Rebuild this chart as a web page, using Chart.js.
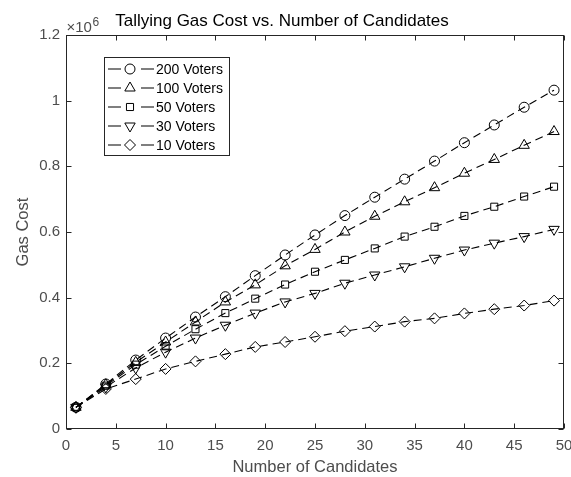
<!DOCTYPE html>
<html>
<head>
<meta charset="utf-8">
<script src="https://cdn.jsdelivr.net/npm/chart.js@4/dist/chart.umd.min.js"></script>
<style>
  body { margin: 0; background: #fff; }
  #wrap { width: 571px; height: 477px; }
</style>
</head>
<body>
<div id="wrap"><canvas id="gasChart" width="571" height="477"></canvas></div>
<script>
const candidates = [1, 4, 7, 10, 13, 16, 19, 22, 25, 28, 31, 34, 37, 40, 43, 46, 49];

const voters200 = [66000, 137000, 210000, 277000, 341000, 403000, 467000, 530000, 591000, 650000, 706000, 761000, 816000, 872000, 926000, 980000, 1032000];
const voters100 = [66000, 135000, 203000, 265000, 326000, 387000, 439000, 497000, 547000, 600000, 648000, 692000, 735000, 779000, 821000, 864000, 906000];
const voters50 = [66000, 132000, 196000, 252000, 304000, 353000, 397000, 440000, 479000, 515000, 550000, 586000, 616000, 649000, 677000, 708000, 738000];
const voters30 = [66000, 128000, 186000, 234000, 277000, 316000, 353000, 387000, 413000, 444000, 469000, 494000, 520000, 545000, 566000, 586000, 608000];
const voters10 = [66000, 122000, 152000, 183000, 206000, 228000, 250000, 265000, 281000, 298000, 312000, 327000, 337000, 352000, 365000, 376000, 391000];

const seriesLabels = ['200 Voters', '100 Voters', '50 Voters', '30 Voters', '10 Voters'];
const xTicks = [0, 5, 10, 15, 20, 25, 30, 35, 40, 45, 50];
const yTicks = [0, 200000, 400000, 600000, 800000, 1000000, 1200000];

const AXIS_COLOR = '#262626';
const TICK_COLOR = '#4d4d4d';
const FONT = 'Liberation Sans, Arial, Helvetica, sans-serif';

// marker style per series, MATLAB style (unfilled)
const markers = [
  { style: 'circle', radius: 5, rotation: 0 },
  { style: 'triangle', radius: 6, rotation: 0 },
  { style: 'rect', radius: 5, rotation: 0 },
  { style: 'triangle', radius: 6, rotation: 180 },
  { style: 'rectRot', radius: 5.5, rotation: 0 }
];

const allSeries = [voters200, voters100, voters50, voters30, voters10];

const datasets = allSeries.map((values, i) => ({
  label: seriesLabels[i],
  data: values.map((v, j) => ({ x: candidates[j], y: v })),
  borderColor: '#000',
  borderWidth: 1.1,
  borderDash: [8, 5],
  backgroundColor: 'rgba(0,0,0,0)',
  pointStyle: markers[i].style,
  pointRadius: markers[i].radius,
  pointRotation: markers[i].rotation,
  pointBorderColor: '#000',
  pointBorderWidth: 1,
  pointBackgroundColor: 'rgba(0,0,0,0)',
  fill: false,
  tension: 0
}));

// box, inward ticks and the x10^6 exponent label
const framePlugin = {
  id: 'frame',
  afterDraw(chart) {
    const { ctx, chartArea: a, scales } = chart;
    const L = Math.round(a.left) + 0.5, R = Math.round(a.right) - 0.5;
    const T = Math.round(a.top) + 0.5, B = Math.round(a.bottom) - 0.5;
    ctx.save();
    ctx.strokeStyle = AXIS_COLOR;
    ctx.lineWidth = 1;
    ctx.setLineDash([]);
    ctx.strokeRect(L, T, R - L, B - T);

    const len = 5;
    ctx.beginPath();
    scales.x.ticks.forEach(t => {
      const px = Math.round(scales.x.getPixelForValue(t.value)) + 0.5;
      ctx.moveTo(px, B); ctx.lineTo(px, B - len);
      ctx.moveTo(px, T); ctx.lineTo(px, T + len);
    });
    scales.y.ticks.forEach(t => {
      const py = Math.round(scales.y.getPixelForValue(t.value)) + 0.5;
      ctx.moveTo(L, py); ctx.lineTo(L + len, py);
      ctx.moveTo(R, py); ctx.lineTo(R - len, py);
    });
    ctx.stroke();

    // exponent
    ctx.fillStyle = TICK_COLOR;
    ctx.textBaseline = 'alphabetic';
    ctx.textAlign = 'left';
    ctx.font = '15px ' + FONT;
    ctx.fillText('\u00d710', L, T - 3.5);
    const w = ctx.measureText('\u00d710').width;
    ctx.font = '12px ' + FONT;
    ctx.fillText('6', L + w + 0.5, T - 9.5);
    ctx.restore();
  }
};

// MATLAB like legend box in the top left of the axes
const legendPlugin = {
  id: 'matLegend',
  afterDraw(chart) {
    const { ctx } = chart;
    const box = { x: 104.5, y: 57.5, w: 125, h: 98 };
    ctx.save();
    ctx.setLineDash([]);
    ctx.fillStyle = '#fff';
    ctx.fillRect(box.x, box.y, box.w, box.h);
    ctx.strokeStyle = AXIS_COLOR;
    ctx.lineWidth = 1;
    ctx.strokeRect(box.x, box.y, box.w, box.h);

    chart.data.datasets.forEach((ds, i) => {
      const y = 69 + i * 19;
      ctx.strokeStyle = '#000';
      ctx.lineWidth = 1.1;
      ctx.beginPath();
      ctx.moveTo(108, y); ctx.lineTo(121, y);
      ctx.moveTo(141, y); ctx.lineTo(154, y);
      ctx.stroke();

      ctx.lineWidth = 1;
      ctx.fillStyle = 'rgba(0,0,0,0)';
      Chart.helpers.drawPoint(ctx, {
        pointStyle: ds.pointStyle,
        radius: ds.pointRadius,
        rotation: ds.pointRotation,
        borderWidth: 1
      }, 130, y);

      ctx.fillStyle = '#000';
      ctx.font = '14px ' + FONT;
      ctx.textAlign = 'left';
      ctx.textBaseline = 'middle';
      ctx.fillText(ds.label, 156, y + 1);
    });
    ctx.restore();
  }
};

new Chart(document.getElementById('gasChart'), {
  type: 'line',
  data: { datasets },
  options: {
    responsive: false,
    animation: false,
    layout: { padding: { left: 0, right: 7, top: 0, bottom: 0 } },
    plugins: {
      legend: { display: false },
      tooltip: { enabled: false },
      title: {
        display: true,
        text: 'Tallying Gas Cost vs. Number of Candidates',
        color: '#000',
        font: { family: FONT, size: 17, weight: 'normal' },
        padding: { top: 11, bottom: 3.6 }
      }
    },
    scales: {
      x: {
        type: 'linear',
        min: 0,
        max: 50,
        afterBuildTicks: s => { s.ticks = xTicks.map(v => ({ value: v })); },
        afterFit: s => { s.height = 48; s.paddingLeft = 0; s.paddingRight = 0; },
        ticks: { color: TICK_COLOR, font: { family: FONT, size: 15 }, padding: 8, maxRotation: 0 },
        grid: { display: false, drawTicks: false },
        border: { display: false },
        title: {
          display: true,
          text: 'Number of Candidates',
          color: TICK_COLOR,
          font: { family: FONT, size: 16.5 },
          padding: { top: 0, bottom: 0 }
        }
      },
      y: {
        type: 'linear',
        min: 0,
        max: 1200000,
        afterBuildTicks: s => { s.ticks = yTicks.map(v => ({ value: v })); },
        afterFit: s => { s.width = 66; },
        ticks: {
          color: TICK_COLOR,
          font: { family: FONT, size: 15 },
          padding: 6,
          callback: v => String(+(v / 1e6).toFixed(1))
        },
        grid: { display: false, drawTicks: false },
        border: { display: false },
        title: {
          display: true,
          text: 'Gas Cost',
          color: TICK_COLOR,
          font: { family: FONT, size: 16.5 },
          padding: { top: 14, bottom: 0 }
        }
      }
    }
  },
  plugins: [framePlugin, legendPlugin]
});
</script>
</body>
</html>
